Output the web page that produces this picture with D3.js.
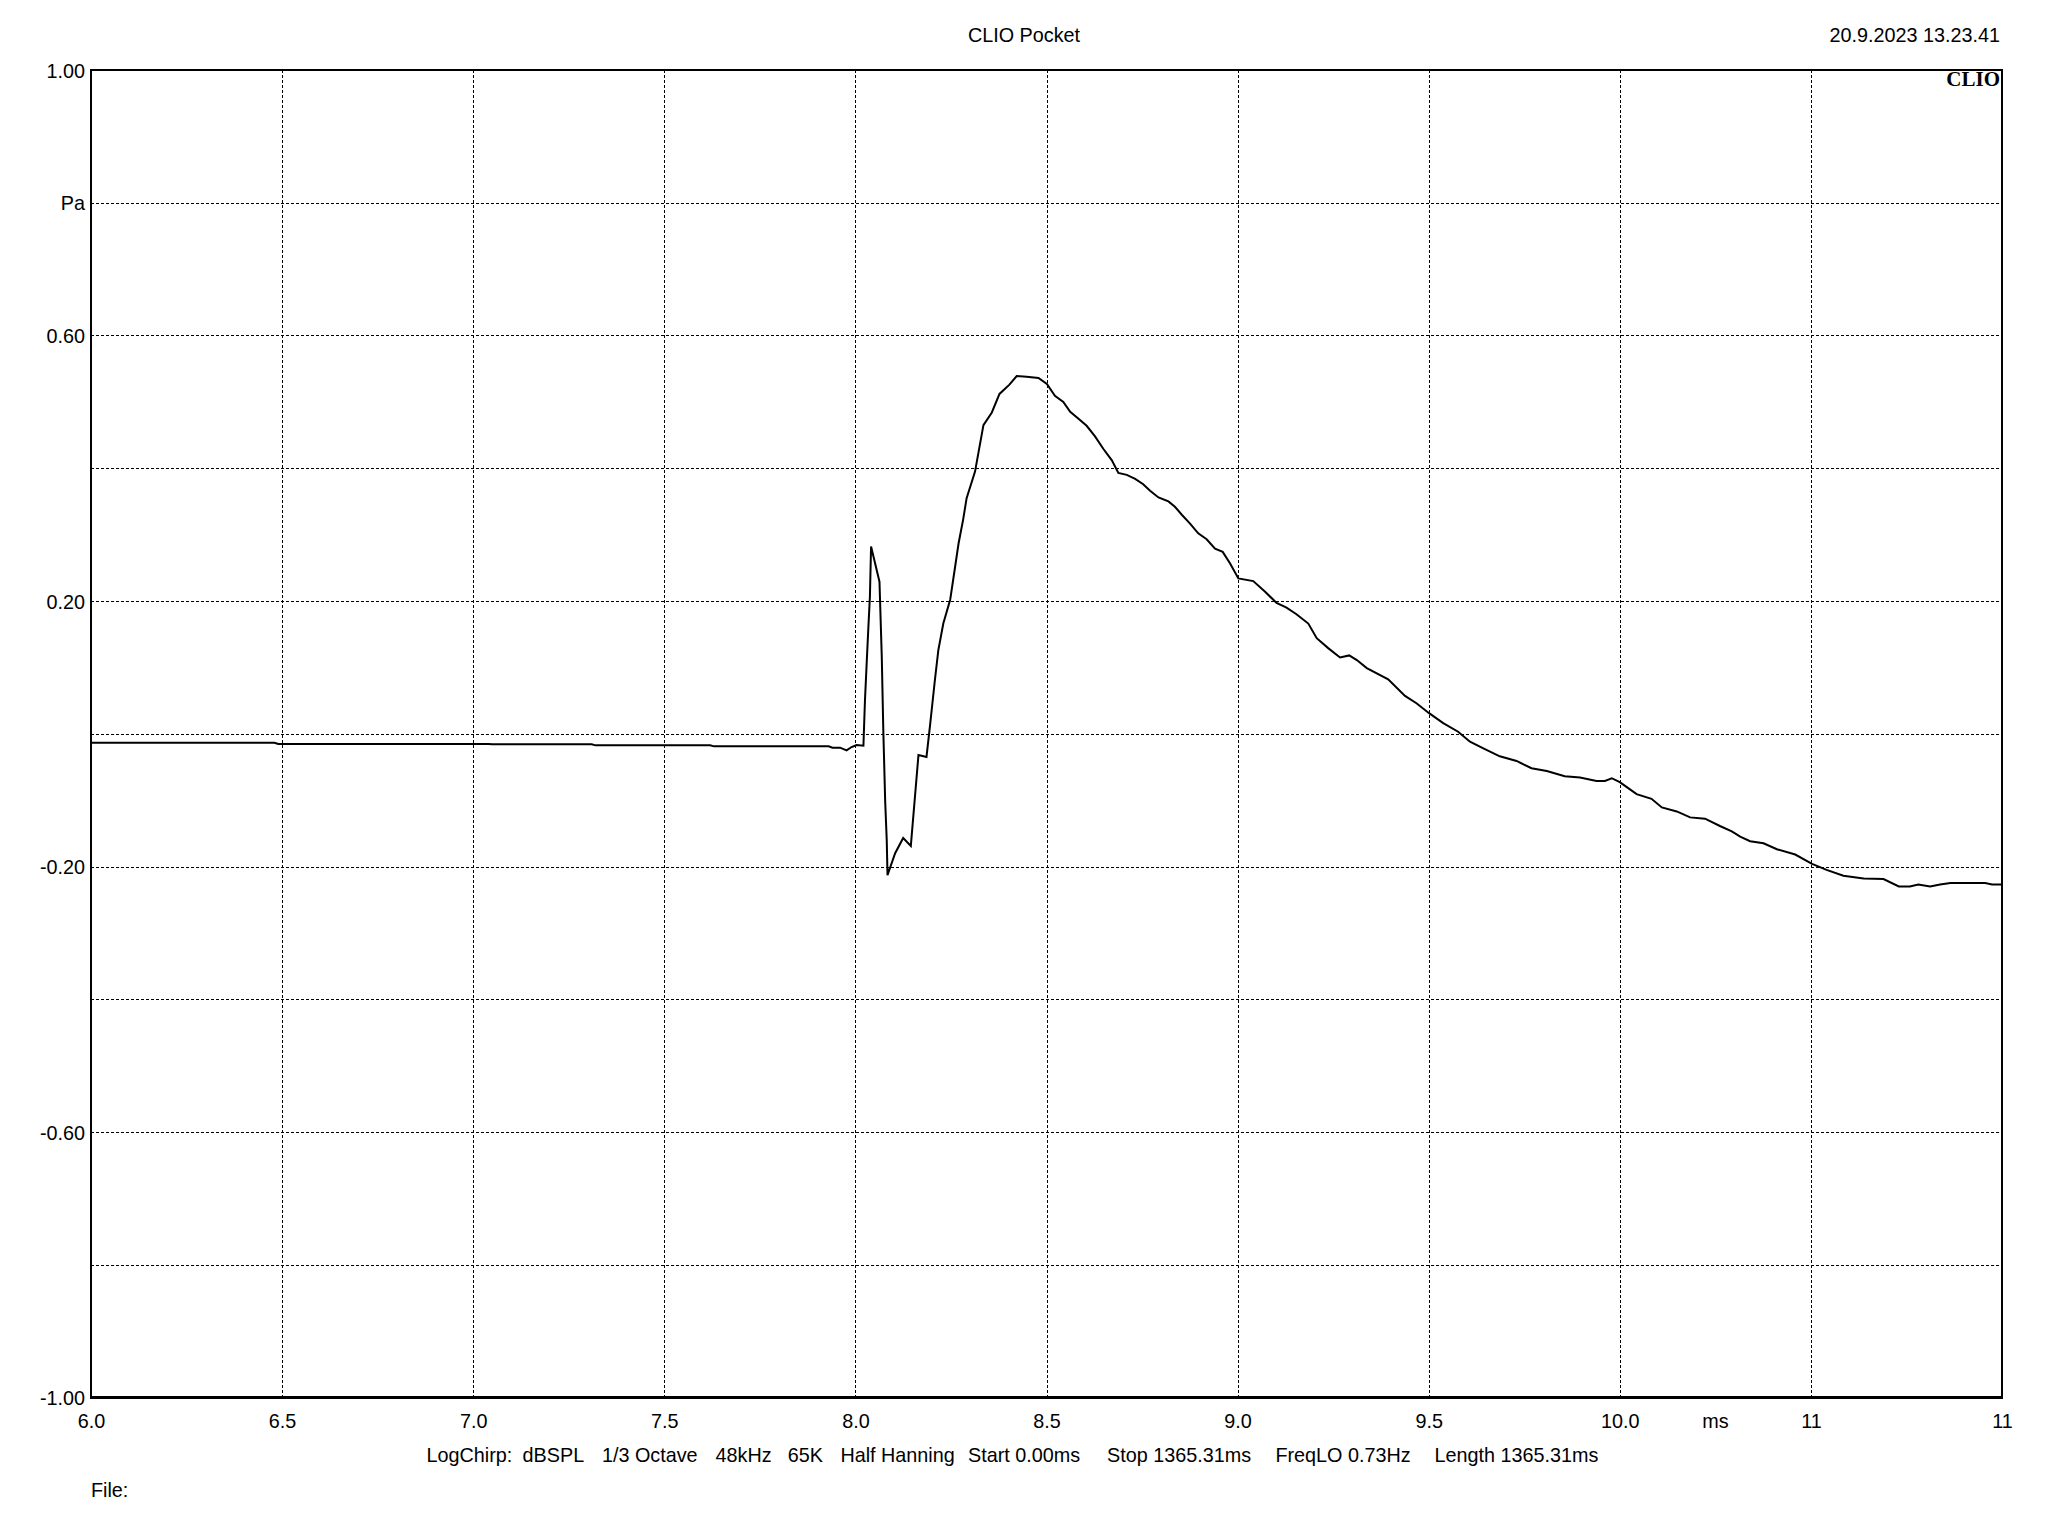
<!DOCTYPE html>
<html>
<head>
<meta charset="utf-8">
<script src="https://cdn.jsdelivr.net/npm/d3@7/dist/d3.min.js"></script>
<style>
  html, body { margin: 0; padding: 0; background: #fff; }
  svg { display: block; }
  text { font-family: "Liberation Sans", Arial, sans-serif; fill: #000; }
</style>
</head>
<body>
<script>
// ---- Data ----
const timeMs = [
  6.00, 6.48, 6.49, 7.04, 7.05, 7.31, 7.32, 7.62, 7.63, 7.93, 7.94, 7.96, 7.977, 7.99, 8.003, 8.021,
  8.025, 8.029, 8.034, 8.038, 8.041, 8.063, 8.069, 8.073, 8.078, 8.082, 8.084, 8.104, 8.125, 8.145,
  8.165, 8.186, 8.195, 8.208, 8.217, 8.230, 8.248, 8.261, 8.270, 8.282, 8.291, 8.313, 8.335, 8.357,
  8.377, 8.403, 8.422, 8.448, 8.479, 8.501, 8.522, 8.544, 8.562, 8.583, 8.605, 8.627, 8.649, 8.671,
  8.688, 8.710, 8.732, 8.753, 8.771, 8.793, 8.819, 8.836, 8.854, 8.875, 8.897, 8.919, 8.941, 8.961,
  8.980, 9.002, 9.041, 9.072, 9.102, 9.128, 9.154, 9.185, 9.207, 9.237, 9.268, 9.292, 9.312, 9.338,
  9.394, 9.438, 9.468, 9.501, 9.538, 9.577, 9.608, 9.643, 9.686, 9.730, 9.769, 9.809, 9.856, 9.896,
  9.939, 9.961, 9.979, 10.000, 10.022, 10.044, 10.083, 10.110, 10.149, 10.184, 10.223, 10.262, 10.293,
  10.315, 10.341, 10.376, 10.411, 10.459, 10.503, 10.541, 10.585, 10.638, 10.690, 10.730, 10.759,
  10.781, 10.812, 10.838, 10.865, 10.956, 10.974, 11.000
];
const pressurePa = [
  -0.0135, -0.0135, -0.0155, -0.0155, -0.016, -0.016, -0.0175, -0.0175, -0.019, -0.019, -0.021, -0.021, -0.025, -0.020, -0.017, -0.018,
  0.050, 0.100, 0.161, 0.207, 0.282, 0.229, 0.116, 0.005, -0.103, -0.160, -0.213, -0.180, -0.157, -0.169,
  -0.032, -0.035, 0.011, 0.081, 0.126, 0.166, 0.202, 0.252, 0.287, 0.323, 0.355, 0.395, 0.465, 0.484,
  0.512, 0.526, 0.539, 0.538, 0.536, 0.527, 0.509, 0.500, 0.485, 0.475, 0.464, 0.448, 0.429, 0.412,
  0.393, 0.390, 0.384, 0.376, 0.366, 0.356, 0.350, 0.342, 0.330, 0.317, 0.302, 0.293, 0.279, 0.274,
  0.257, 0.234, 0.230, 0.214, 0.197, 0.190, 0.180, 0.166, 0.144, 0.129, 0.115, 0.118, 0.111, 0.099,
  0.082, 0.057, 0.046, 0.031, 0.016, 0.003, -0.012, -0.022, -0.034, -0.041, -0.052, -0.056, -0.064, -0.066,
  -0.071, -0.071, -0.067, -0.073, -0.082, -0.091, -0.098, -0.111, -0.117, -0.126, -0.128, -0.139, -0.147,
  -0.155, -0.162, -0.165, -0.174, -0.182, -0.196, -0.205, -0.214, -0.218, -0.219, -0.230, -0.230,
  -0.227, -0.230, -0.227, -0.225, -0.225, -0.227, -0.227
];
const xTickValues = [6.0, 6.5, 7.0, 7.5, 8.0, 8.5, 9.0, 9.5, 10.0, 10.5, 11.0];
const xTickLabels = ["6.0", "6.5", "7.0", "7.5", "8.0", "8.5", "9.0", "9.5", "10.0", "11", "11"];
const xUnit = { value: 10.25, label: "ms" };
const yTickValues = [1.0, 0.8, 0.6, 0.4, 0.2, 0.0, -0.2, -0.4, -0.6, -0.8, -1.0];
const yTickLabels = ["1.00", "Pa", "0.60", "", "0.20", "", "-0.20", "", "-0.60", "", "-1.00"];
const titleText = "CLIO Pocket";
const dateText = "20.9.2023 13.23.41";
const logoText = "CLIO";
const footerItems = ["LogChirp:", "dBSPL", "1/3 Octave", "48kHz", "65K", "Half Hanning",
  "Start 0.00ms", "Stop 1365.31ms", "FreqLO 0.73Hz", "Length 1365.31ms"];
const fileText = "File:";

// ---- Layout ----
const W = 2048, H = 1536;
const plot = { left: 91, right: 2002, top: 70, bottom: 1397.5 };
const fs = 19.8;
const footerX = [426.5, 522.6, 601.9, 715.5, 787.8, 840.4, 968.1, 1107, 1275.4, 1434.5];

const svg = d3.select("body").append("svg").attr("width", W).attr("height", H);
svg.append("rect").attr("width", W).attr("height", H).attr("fill", "#fff");

const x = d3.scaleLinear().domain([6, 11]).range([plot.left, plot.right]);
const y = d3.scaleLinear().domain([-1, 1]).range([plot.bottom, plot.top]);

// grid
const grid = svg.append("g").attr("shape-rendering", "crispEdges");
grid.selectAll("line.vg").data(xTickValues.slice(1, -1)).join("line")
  .attr("x1", d => Math.round(x(d)) + 0.5).attr("x2", d => Math.round(x(d)) + 0.5)
  .attr("y1", plot.top).attr("y2", plot.bottom)
  .attr("stroke", "#000").attr("stroke-width", 1).attr("stroke-dasharray", "3,2");
grid.selectAll("line.hg").data(yTickValues.slice(1, -1)).join("line")
  .attr("y1", d => Math.round(y(d)) + 0.5).attr("y2", d => Math.round(y(d)) + 0.5)
  .attr("x1", plot.left).attr("x2", plot.right)
  .attr("stroke", "#000").attr("stroke-width", 1).attr("stroke-dasharray", "3,2");

// curve
const line = d3.line().x((d, i) => x(timeMs[i])).y(d => y(d));
svg.append("path").datum(pressurePa)
  .attr("d", line)
  .attr("fill", "none").attr("stroke", "#000").attr("stroke-width", 2)
  .attr("stroke-linejoin", "miter");

// frame
svg.append("rect")
  .attr("x", plot.left).attr("y", plot.top)
  .attr("width", plot.right - plot.left).attr("height", plot.bottom - plot.top)
  .attr("fill", "none").attr("stroke", "#000").attr("stroke-width", 2.5)
  .attr("shape-rendering", "crispEdges");

// x axis labels via d3 axis
const xAxis = d3.axisBottom(x).tickValues(xTickValues)
  .tickFormat((d, i) => xTickLabels[i]).tickSize(0).tickPadding(0);
const gx = svg.append("g").attr("transform", `translate(0,${plot.bottom})`).call(xAxis);
gx.select(".domain").remove();
gx.selectAll("text").attr("font-size", fs).attr("font-family", "Liberation Sans, Arial, sans-serif")
  .attr("y", 30.5).attr("dy", null).attr("fill", "#000");
svg.append("text").attr("x", x(xUnit.value)).attr("y", plot.bottom + 30.5)
  .attr("text-anchor", "middle").attr("font-size", fs).text(xUnit.label);

// y axis labels via d3 axis
const yAxis = d3.axisLeft(y).tickValues(yTickValues)
  .tickFormat((d, i) => yTickLabels[i]).tickSize(0).tickPadding(6);
const gy = svg.append("g").attr("transform", `translate(${plot.left},0)`).call(yAxis);
gy.select(".domain").remove();
gy.selectAll("text").attr("font-size", fs).attr("font-family", "Liberation Sans, Arial, sans-serif")
  .attr("dy", "0.36em").attr("fill", "#000");

// title, date, logo
svg.append("text").attr("x", 1024).attr("y", 42).attr("text-anchor", "middle")
  .attr("font-size", fs).text(titleText);
svg.append("text").attr("x", 2000).attr("y", 42).attr("text-anchor", "end")
  .attr("font-size", fs).text(dateText);
svg.append("text").attr("x", 2000).attr("y", 86).attr("text-anchor", "end")
  .attr("font-size", 21).attr("font-weight", "bold")
  .style("font-family", "'Liberation Serif', 'DejaVu Serif', serif").text(logoText);

// footer
svg.append("g").selectAll("text").data(footerItems).join("text")
  .attr("x", (d, i) => footerX[i]).attr("y", 1462).attr("font-size", fs).text(d => d);
svg.append("text").attr("x", 91).attr("y", 1496.5).attr("font-size", fs).text(fileText);
</script>
</body>
</html>
